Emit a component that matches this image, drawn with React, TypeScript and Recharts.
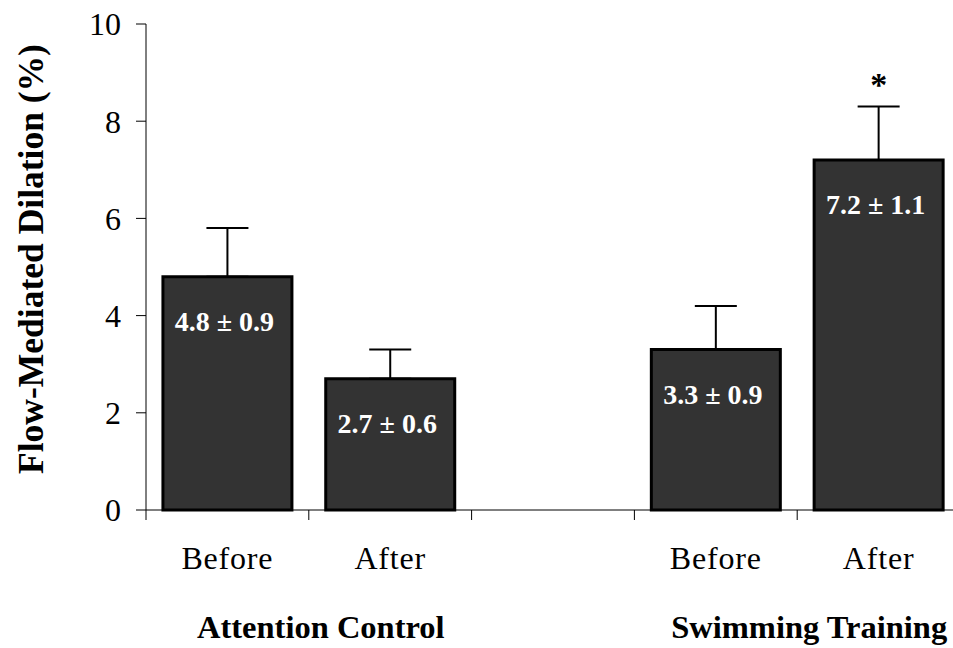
import { BarChart, Bar, XAxis, YAxis, ErrorBar, LabelList } from 'recharts'

const categories = ['Before', 'After', '', 'Before', 'After']
const groups = ['Attention Control', '', '', 'Swimming Training', '']
const means = [4.8, 2.7, null, 3.3, 7.2]
const errors = [1.0, 0.6, null, 0.9, 1.1]
const valueLabels = ['4.8 ± 0.9', '2.7 ± 0.6', '', '3.3 ± 0.9', '7.2 ± 1.1']
const marks = ['', '', '', '', '*']
const yTicks = [0, 2, 4, 6, 8, 10]

const FONT = '"Liberation Serif", "Times New Roman", serif'
const CHART_W = 975
const CHART_H = 648
const MARGIN = { top: 24, right: 15, left: 86, bottom: 108 }
const Y_AXIS_W = 60
const X_AXIS_H = 30
const Y_MAX = 10
const BAND = (CHART_W - MARGIN.left - Y_AXIS_W - MARGIN.right) / categories.length
const PLOT_H = CHART_H - MARGIN.top - MARGIN.bottom - X_AXIS_H

const data = categories.map((name, i) => ({
  name,
  value: means[i],
  err: errors[i] === null ? null : [0, errors[i]],
  label: valueLabels[i],
  mark: marks[i],
}))

const XTick = (props: any) => {
  const { x, y, index } = props
  const left = x - BAND / 2
  return (
    <g>
      <line x1={left} y1={y} x2={left} y2={y + 10} stroke="#000" strokeWidth={1} />
      {index === categories.length - 1 && (
        <line x1={x + BAND / 2} y1={y} x2={x + BAND / 2} y2={y + 10} stroke="#000" strokeWidth={1} />
      )}
      <text x={x} y={y + 59} textAnchor="middle" fontFamily={FONT} fontSize={32} letterSpacing={0.8} fill="#000">
        {categories[index]}
      </text>
      {groups[index] && (
        <text x={x + BAND / 2 + 12} y={y + 128} textAnchor="middle" fontFamily={FONT} fontSize={32.5} fontWeight="bold" fill="#000">
          {groups[index]}
        </text>
      )}
    </g>
  )
}

const ValueLabel = (props: any) => {
  const { x, y, width, value } = props
  if (!value) return null
  return (
    <text x={x + width / 2 - 3} y={y + 54} textAnchor="middle" fontFamily={FONT} fontSize={28} fontWeight="bold" fill="#fff">
      {value}
    </text>
  )
}

const MarkLabel = (props: any) => {
  const { x, y, width, index, value } = props
  if (!value) return null
  const top = y - (errors[index] ?? 0) * (PLOT_H / Y_MAX)
  return (
    <text x={x + width / 2} y={top - 20} textAnchor="middle" fontFamily={FONT} fontSize={34} fontWeight="bold" fill="#000">
      {value}
    </text>
  )
}

const YLabel = () => {
  const cx = 31
  const cy = MARGIN.top + PLOT_H / 2 - 8
  return (
    <text
      x={cx}
      y={cy}
      transform={`rotate(-90, ${cx}, ${cy})`}
      textAnchor="middle"
      dominantBaseline="central"
      fontFamily={FONT}
      fontSize={35.5}
      fontWeight="bold"
      fill="#000"
    >
      Flow-Mediated Dilation (%)
    </text>
  )
}

export default function App() {
  return (
    <div style={{ position: 'absolute', left: 0, top: 0, width: 953, height: 648, overflow: 'hidden', background: '#fff' }}>
      <BarChart width={CHART_W} height={CHART_H} data={data} margin={MARGIN} barCategoryGap="10.4%">
        <XAxis
          height={X_AXIS_H}
          tickLine={false}
          tickSize={0}
          tickMargin={0}
          axisLine={{ stroke: '#000', strokeWidth: 1 }}
          tick={<XTick />}
          interval={0}
        />
        <YAxis
          width={Y_AXIS_W}
          domain={[0, Y_MAX]}
          ticks={yTicks}
          tickSize={10}
          tickMargin={15}
          axisLine={{ stroke: '#000', strokeWidth: 1 }}
          tickLine={{ stroke: '#000', strokeWidth: 1 }}
          tick={{ fontFamily: FONT, fontSize: 32, fill: '#000' }}
          label={<YLabel />}
        />
        <Bar dataKey="value" fill="#333333" stroke="#000" strokeWidth={3} isAnimationActive={false}>
          <ErrorBar dataKey="err" width={21} stroke="#000" strokeWidth={2} direction="y" />
          <LabelList dataKey="label" content={<ValueLabel />} />
          <LabelList dataKey="mark" content={<MarkLabel />} />
        </Bar>
      </BarChart>
    </div>
  )
}
